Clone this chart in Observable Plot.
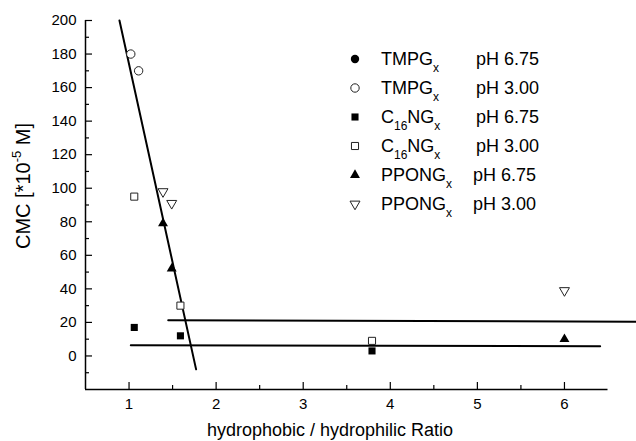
<!DOCTYPE html>
<html><head><meta charset="utf-8">
<script src="https://cdn.jsdelivr.net/npm/d3@7"></script>
<script src="https://cdn.jsdelivr.net/npm/@observablehq/plot@0.6"></script>
<style>
body{margin:0;background:#fff;}
#wrap{position:relative;width:636px;height:441px;font-family:"Liberation Sans",Arial,sans-serif;color:#000;overflow:hidden;}
#wrap svg{position:absolute;left:0;top:0;}
.lg{position:absolute;font-size:18px;line-height:18px;white-space:nowrap;}
.lg sub{font-size:12px;vertical-align:-7px;line-height:0;}
.sym{position:absolute;}
#ytitle{position:absolute;left:23px;top:186px;transform:translate(-50%,-50%) rotate(-90deg);font-size:20px;white-space:nowrap;line-height:22px;}
#ytitle sup{font-size:13px;vertical-align:9px;line-height:0;}
#xtitle{position:absolute;left:330px;top:421px;transform:translateX(-50%);font-size:18px;white-space:nowrap;line-height:18px;}
</style></head><body><div id="wrap"></div>
<script>
// ---- data ----
const tmpg675 = [];                                   // legend only (no visible points)
const tmpg300 = [[1.02, 180], [1.11, 170]];
const c16ng675 = [[1.06, 17], [1.59, 12], [3.79, 3]];
const c16ng300 = [[1.06, 95], [1.59, 30], [3.79, 9]];
const ppong675 = [[1.39, 79], [1.49, 52], [6.0, 10]];
const ppong300 = [[1.39, 98], [1.49, 91], [6.0, 39]];
const fitSteep = [[0.89, 200], [1.77, -8]];
const fitUpper = [[1.45, 21.3], [6.83, 20.4]];
const fitLower = [[1.02, 6.4], [6.41, 5.8]];

const xMajor = [1, 2, 3, 4, 5, 6];
const xMinor = [1.5, 2.5, 3.5, 4.5, 5.5];
const yMajor = [0, 20, 40, 60, 80, 100, 120, 140, 160, 180, 200];
const yMinor = [-10, 10, 30, 50, 70, 90, 110, 130, 150, 170, 190];
const xDomain = [0.5, 6.5];
const yDomain = [-20, 200];

const legendNames = [["TMPG", "", "x"], ["TMPG", "", "x"], ["C", "16", "NG", "x"], ["C", "16", "NG", "x"], ["PPONG", "", "x"], ["PPONG", "", "x"]];
const legendPH = ["pH 6.75", "pH 3.00", "pH 6.75", "pH 3.00", "pH 6.75", "pH 3.00"];
const legendSymbols = [["circle", true, 0], ["circle", false, 0], ["square", true, 0], ["square", false, 0], ["triangle", true, 0], ["triangle", false, 180]];

const X = d => d[0], Y = d => d[1];
const filled = {fill: "black", stroke: "none"};
const open = {fill: "white", stroke: "#222", strokeWidth: 1};

const chart = Plot.plot({
  width: 636, height: 441,
  marginTop: 20, marginBottom: 52, marginLeft: 85, marginRight: 28.5,
  x: {domain: xDomain},
  y: {domain: yDomain},
  style: {fontFamily: "Liberation Sans, Arial, sans-serif", fontSize: "15px", background: "white", color: "black", overflow: "visible"},
  marks: [
    Plot.ruleX([xDomain[0]], {y1: yDomain[0], y2: yDomain[1], strokeWidth: 1.5}),
    Plot.ruleY([yDomain[0]], {x1: xDomain[0], x2: xDomain[1], strokeWidth: 1.5}),
    Plot.axisX({ticks: xMajor, tickSize: -7, tickPadding: 16, tickFormat: d => String(d), label: null, fontSize: 15, strokeWidth: 1.2}),
    Plot.axisX({ticks: xMinor, tickSize: -4, tickPadding: 0, tickFormat: () => "", label: null, strokeWidth: 1.2}),
    Plot.axisY({ticks: yMajor, tickSize: -7, tickPadding: 16, tickFormat: d => String(d), label: null, fontSize: 15, strokeWidth: 1.2}),
    Plot.axisY({ticks: yMinor, tickSize: -4, tickPadding: 0, tickFormat: () => "", label: null, strokeWidth: 1.2}),
    Plot.line(fitSteep, {x: X, y: Y, stroke: "black", strokeWidth: 2}),
    Plot.line(fitUpper, {x: X, y: Y, stroke: "black", strokeWidth: 2}),
    Plot.line(fitLower, {x: X, y: Y, stroke: "black", strokeWidth: 2}),
    Plot.dot(tmpg675, {x: X, y: Y, symbol: "circle", r: 4.2, ...filled}),
    Plot.dot(tmpg300, {x: X, y: Y, symbol: "circle", r: 4.2, ...open}),
    Plot.dot(c16ng675, {x: X, y: Y, symbol: "square", r: 4, ...filled}),
    Plot.dot(c16ng300, {x: X, y: Y, symbol: "square", r: 4, ...open}),
    Plot.dot(ppong675, {x: X, y: Y, symbol: "triangle", r: 3.7, ...filled}),
    Plot.dot(ppong300, {x: X, y: Y, symbol: "triangle", r: 3.7, rotate: 180, ...open})
  ]
});

const wrap = document.getElementById("wrap");
wrap.appendChild(chart);

// legend (inside plot area, top right)
const rowY0 = 59.3, rowStep = 29;
const symbolMap = {circle: d3.symbolCircle, square: d3.symbolSquare, triangle: d3.symbolTriangle};
const sizeMap = {circle: Math.PI * 4.2 * 4.2, square: Math.PI * 4 * 4, triangle: Math.PI * 3.7 * 3.7};
legendSymbols.forEach(([shape, isFilled, rot], i) => {
  const cy = rowY0 + i * rowStep;
  const s = document.createElementNS("http://www.w3.org/2000/svg", "svg");
  s.setAttribute("width", 20); s.setAttribute("height", 20);
  s.setAttribute("class", "sym");
  s.style.left = (355 - 10) + "px"; s.style.top = (cy - 10) + "px";
  const p = document.createElementNS("http://www.w3.org/2000/svg", "path");
  p.setAttribute("d", d3.symbol(symbolMap[shape], sizeMap[shape])());
  p.setAttribute("transform", `translate(10,10) rotate(${rot})`);
  p.setAttribute("fill", isFilled ? "black" : "white");
  p.setAttribute("stroke", isFilled ? "none" : "#222");
  s.appendChild(p);
  wrap.appendChild(s);

  const nameParts = legendNames[i];
  let html;
  if (nameParts.length === 4) html = `${nameParts[0]}<sub>${nameParts[1]}</sub>${nameParts[2]}<sub>${nameParts[3]}</sub>`;
  else html = `${nameParts[0]}<sub>${nameParts[2]}</sub>`;
  const baseline = cy + 6;
  const n = document.createElement("div");
  n.className = "lg"; n.innerHTML = html;
  n.style.left = "381px"; n.style.top = (baseline - 15.2) + "px";
  wrap.appendChild(n);
  const ph = document.createElement("div");
  ph.className = "lg"; ph.textContent = legendPH[i];
  ph.style.left = (i >= 4 ? 473 : 476) + "px"; ph.style.top = (baseline - 15.2) + "px";
  wrap.appendChild(ph);
});

const yt = document.createElement("div");
yt.id = "ytitle"; yt.innerHTML = "CMC [*10<sup>-5</sup> M]";
wrap.appendChild(yt);
const xt = document.createElement("div");
xt.id = "xtitle"; xt.textContent = "hydrophobic / hydrophilic Ratio";
wrap.appendChild(xt);
</script>
</body></html>
